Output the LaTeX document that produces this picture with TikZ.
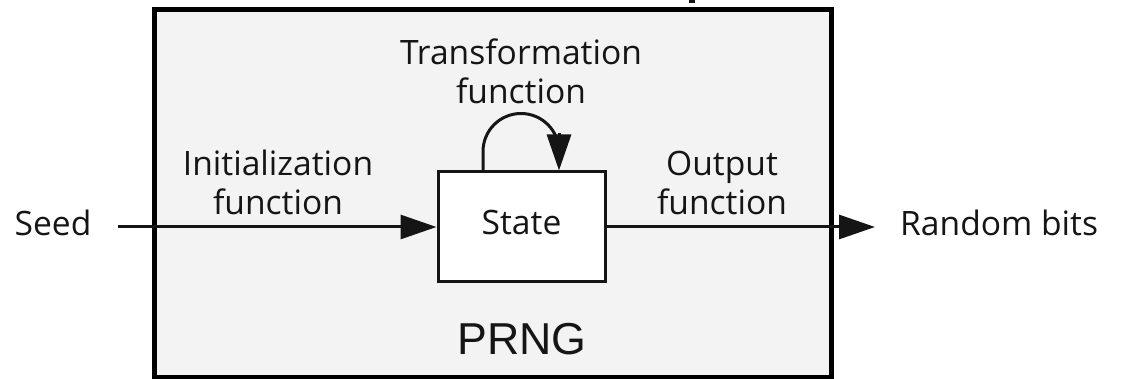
\documentclass[tikz,border=0pt]{standalone}
\usepackage{fontspec}
\setmainfont{Open Sans}
\newfontfamily\arialfont{Liberation Sans}
\usetikzlibrary{arrows.meta}
\definecolor{boxgray}{HTML}{F3F3F3}
\definecolor{ink}{HTML}{151515}
\begin{document}
\begin{tikzpicture}[x=1pt,y=-1pt,
  lbl/.style={font=\fontsize{33.6}{39}\selectfont, align=center, inner sep=0pt, anchor=base, text=ink},
  conn/.style={line width=3pt, draw=ink},
  arr/.style={conn, -{Triangle[length=36pt,width=24pt]}},
  ]
\useasboundingbox (0,0) rectangle (1122,379);
\fill[ink] (689,0) rectangle (695,3.5);
\node[draw=black, line width=5pt, fill=boxgray, minimum width=677pt, minimum height=367pt, inner sep=0pt] (prng) at (492.5,193.5) {};
\node[draw=ink, line width=3pt, fill=white, minimum width=167pt, minimum height=110pt, inner sep=0pt,
      font=\fontsize{33.6}{39}\selectfont, text=ink, text height=24pt, text depth=8pt] (state) at (521.5,227) {State};
\node[font=\arialfont\fontsize{44.7}{50}\selectfont, inner sep=0pt, anchor=base, text=ink] (prnglabel) at (522,355) {PRNG};
\node[lbl] (seed) at (53,236) {Seed};
\node[lbl, anchor=base west] (bits) at (900,236) {Random bits};
\node[lbl] (init) at (278,215) {Initialization\\function};
\node[lbl] (outf) at (722,215) {Output\\function};
\node[lbl] (trans) at (521,104) {Transformation\\function};
\draw[arr] ([xshift=26pt]seed.east |- state.west) -- (state.west);
\draw[arr] (state.east) -- ([xshift=-25pt]bits.west |- state.east);
\draw[conn] ([xshift=-38.5pt]state.north) -- ++(0,-19) arc[start angle=180, end angle=360, radius=38] -- ++(0,5);
\draw[arr] ([xshift=37.5pt,yshift=37pt]state.north) -- ([xshift=37.5pt]state.north);
\end{tikzpicture}
\end{document}
